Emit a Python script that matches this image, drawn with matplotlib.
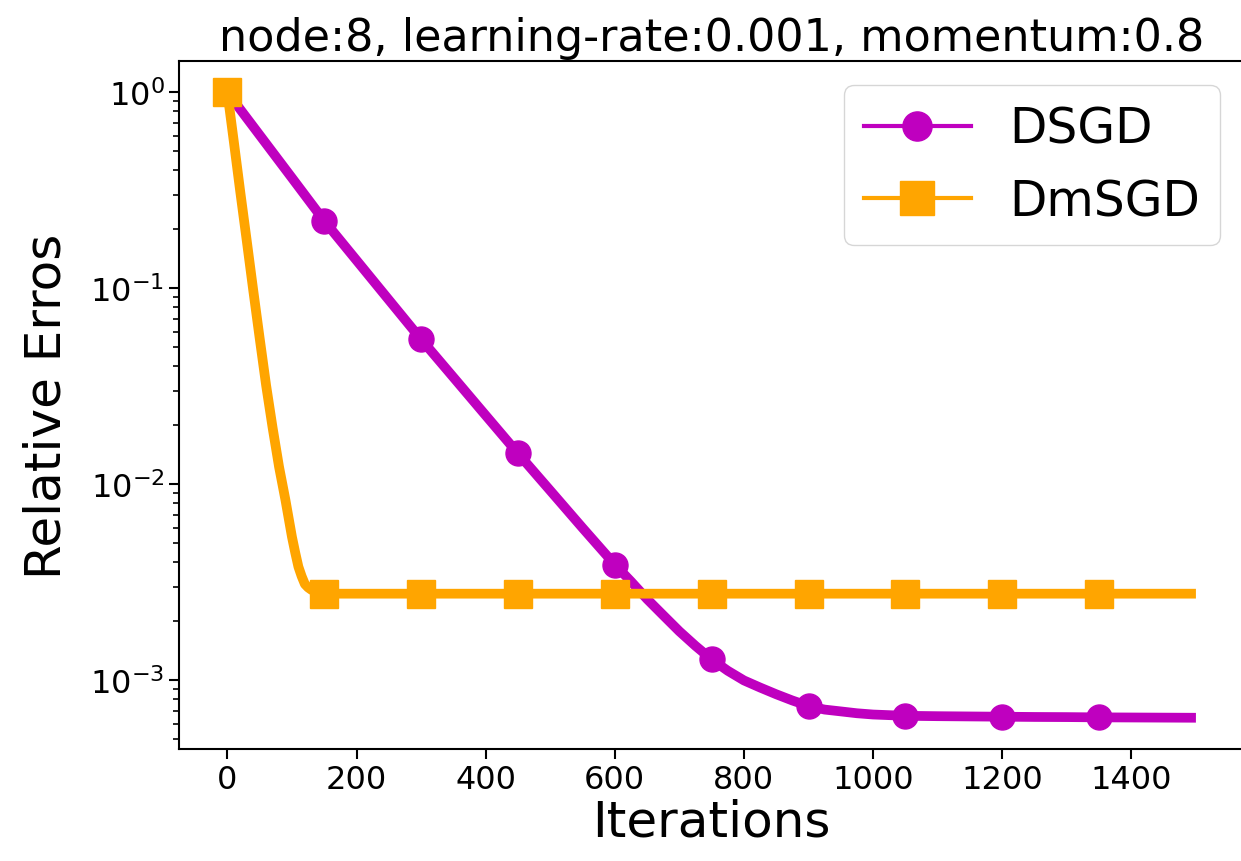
import numpy as np
import matplotlib
matplotlib.use("Agg")
import matplotlib.pyplot as plt
from matplotlib.lines import Line2D

# DSGD: relative error (finer around the bend)
it_dsgd = [0, 50, 100, 150, 200, 250, 300, 350, 400, 450, 500, 550, 600, 625, 650, 675,
           700, 725, 750, 775, 800, 825, 850, 875, 900, 925, 950, 975, 1000, 1050,
           1100, 1150, 1200, 1250, 1300, 1350, 1400, 1450, 1500]
err_dsgd = [1.0, 0.605, 0.366, 0.221, 0.139, 0.0874, 0.055, 0.0352, 0.0225, 0.0144,
            0.0093, 0.0060, 0.0039, 0.0032, 0.0026, 0.00215, 0.00178, 0.0015, 0.00128,
            0.00112, 0.00100, 0.00092, 0.00085, 0.00079, 0.00074, 0.00071, 0.000695,
            0.00068, 0.00067, 0.00066, 0.000657, 0.000655, 0.000653, 0.000651,
            0.000650, 0.000648, 0.000647, 0.000646, 0.000645]

# DmSGD: fast drop in the first 150 iterations, then flat
it_dmsgd = [0, 10, 20, 30, 40, 50, 60, 70, 80, 90, 100, 105, 110, 115, 120, 125, 130,
            140, 150, 200, 250, 300, 350, 400, 450, 500, 550, 600, 650, 700, 750, 800,
            850, 900, 950, 1000, 1050, 1100, 1150, 1200, 1250, 1300, 1350, 1400, 1450,
            1500]
err_dmsgd = [1.0, 0.56, 0.31, 0.175, 0.098, 0.0557, 0.032, 0.0195, 0.0123, 0.0083,
             0.0054, 0.0045, 0.0038, 0.0034, 0.0031, 0.00298, 0.0029, 0.00281, 0.00277,
             0.00277, 0.00277, 0.00277, 0.00277, 0.00277, 0.00277, 0.00277, 0.00277,
             0.00277, 0.00277, 0.00277, 0.00277, 0.00277, 0.00277, 0.00277, 0.00277,
             0.00277, 0.00277, 0.00277, 0.00277, 0.00277, 0.00277, 0.00277, 0.00277,
             0.00277, 0.00277, 0.00277]

mark_step = 150
c_dsgd = 'm'
c_dmsgd = 'orange'

fig = plt.figure(figsize=(12.41, 8.62), dpi=100)
ax = fig.add_axes([0.1442, 0.1299, 0.8585, 0.7981])

# markers every 150 iterations (1500 itself has no marker)
mk1 = [i for i, t in enumerate(it_dsgd) if t % mark_step == 0 and t < 1500]
mk2 = [i for i, t in enumerate(it_dmsgd) if t % mark_step == 0 and t < 1500]

ax.plot(it_dsgd, err_dsgd, color=c_dsgd, linewidth=7, marker='o', markersize=18,
        markevery=mk1, solid_capstyle='butt', solid_joinstyle='round')
ax.plot(it_dmsgd, err_dmsgd, color=c_dmsgd, linewidth=7, marker='s', markersize=20,
        markevery=mk2, solid_capstyle='butt', solid_joinstyle='round')
ax.set_yscale('log')

ax.set_title('node:8, learning-rate:0.001, momentum:0.8', fontsize=32, pad=8)
ax.set_xlabel('Iterations', fontsize=36, labelpad=2)
ax.set_ylabel('Relative Erros', fontsize=36, labelpad=14)
ax.tick_params(axis='both', which='major', labelsize=23, length=7, width=1.5)
ax.tick_params(axis='both', which='minor', length=4, width=1.2)
for s in ax.spines.values():
    s.set_linewidth(1.5)
# the original picture is cut just before the right border of the axes
ax.spines['right'].set_visible(False)

handles = [Line2D([], [], color=c_dsgd, lw=3, marker='o', markersize=21),
           Line2D([], [], color=c_dmsgd, lw=3, marker='s', markersize=24)]
ax.legend(handles, ['DSGD', 'DmSGD'], loc='upper right', fontsize=35, handlelength=2.2)

fig.savefig('out.png', dpi=100)
